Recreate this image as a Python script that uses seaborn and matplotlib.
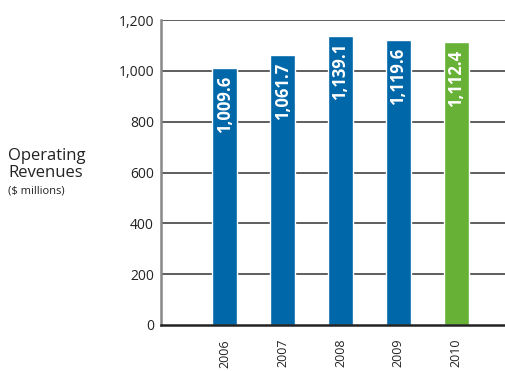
import numpy as np
import matplotlib
matplotlib.use("Agg")
import matplotlib.pyplot as plt
import seaborn as sns

years = ["2006", "2007", "2008", "2009", "2010"]
revenues = [1009.6, 1061.7, 1139.1, 1119.6, 1112.4]
labels = ["1,009.6", "1,061.7", "1,139.1", "1,119.6", "1,112.4"]
colors = ["#0067A9", "#0067A9", "#0067A9", "#0067A9", "#67B136"]
yticks = [0, 200, 400, 600, 800, 1000, 1200]

sns.set_style("white")
plt.rcParams["font.family"] = ["Open Sans", "DejaVu Sans"]

fig = plt.figure(figsize=(5.06, 3.71), dpi=100)
ax = fig.add_axes([0.318, 0.124, 0.680, 0.822])

for y in yticks[1:]:
    ax.axhline(y, color="#333333", lw=1.1, zorder=0)

sns.barplot(x=years, y=revenues, hue=years, palette=colors, legend=False,
            width=0.43, saturation=1, ax=ax, zorder=2)

for i, (v, lab) in enumerate(zip(revenues, labels)):
    ax.text(i, v - 30, lab, rotation=90, ha="center", va="top", color="white",
            fontsize=12, fontweight="bold", zorder=3)

ax.set_xlim(-1.1, 4.84)
ax.set_ylim(0, 1200)
ax.set_yticks(yticks)
ax.set_yticklabels([f"{t:,}" for t in yticks], fontsize=10, color="#222222")
ax.set_xticks(range(len(years)))
ax.set_xticklabels(years, rotation=90, fontsize=9, color="#222222", va="top")
ax.tick_params(axis="both", length=0, pad=5)
ax.tick_params(axis="x", pad=10)
ax.set_xlabel("")
ax.set_ylabel("")

for s in ["top", "right"]:
    ax.spines[s].set_visible(False)
ax.spines["left"].set_color("#888888")
ax.spines["left"].set_linewidth(1.8)
ax.spines["bottom"].set_color("#222222")
ax.spines["bottom"].set_linewidth(1.8)

fig.text(0.016, 1 - 156 / 371, "Operating", fontsize=12, color="#222222",
         ha="left", va="center")
fig.text(0.016, 1 - 173 / 371, "Revenues", fontsize=12, color="#222222",
         ha="left", va="center")
fig.text(0.016, 1 - 191 / 371, "($ millions)", fontsize=8, color="#222222",
         ha="left", va="center")

fig.savefig("out.png", dpi=100)
